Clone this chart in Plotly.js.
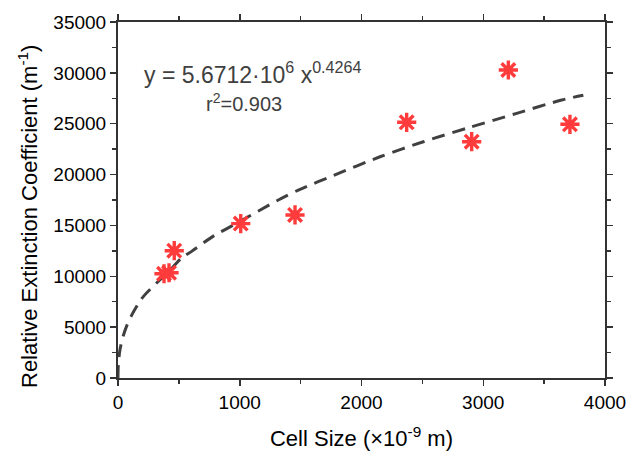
<!DOCTYPE html>
<html><head><meta charset="utf-8">
<script src="https://cdn.plot.ly/plotly-3.0.1.min.js"></script>
<style>body{margin:0;background:#fff}#c{width:629px;height:453px}</style>
</head><body><div id="c"></div>
<script>
// measured points (cell size in 1e-9 m, relative extinction coefficient in m^-1)
var cellSize = [378, 419, 462, 1008, 1454, 2371, 2905, 3206, 3712];
var extinction = [10250, 10350, 12516, 15180, 16030, 25140, 23234, 30282, 24943];
// dashed power-law fit curve
var fitX = [0, 2.5, 16.4, 43.5, 71.5, 112.5, 166.7, 207.8, 331, 400, 523, 605, 783, 988, 1317, 1495, 1768, 2152, 2508, 2891, 3275, 3644, 3822];
var fitY = [0, 1250, 2800, 4150, 5120, 6180, 7300, 8000, 9500, 10250, 11800, 12450, 13950, 15300, 17500, 18550, 19900, 21750, 23230, 24650, 26020, 27330, 27800];
var xTicks = [0, 1000, 2000, 3000, 4000];
var yTicks = [0, 5000, 10000, 15000, 20000, 25000, 30000, 35000];

var font = 'Arial, "Liberation Sans", sans-serif';
var traces = [
  {x: fitX, y: fitY, mode: 'lines', line: {color: '#404040', width: 3, dash: '13px,8px', shape: 'spline', smoothing: 0.8}, hoverinfo: 'skip'},
  {x: cellSize, y: extinction, mode: 'markers', marker: {symbol: 'asterisk-open', size: 16, color: '#ff3b3b', line: {color: '#ff3b3b', width: 3.4}}}
];
var axCommon = {showgrid: false, zeroline: false, showline: true, linecolor: '#333', linewidth: 2, mirror: 'ticks',
  ticks: 'outside', ticklen: 6, tickwidth: 1.5, tickcolor: '#333', tickfont: {family: font, size: 19, color: '#000'}};
var layout = {
  width: 629, height: 453, margin: {l: 118, r: 24, t: 22, b: 75},
  paper_bgcolor: '#fff', plot_bgcolor: '#fff', showlegend: false,
  xaxis: Object.assign({}, axCommon, {range: [0, 4000], tickvals: xTicks, ticktext: xTicks.map(String),
    minor: {dtick: 500, ticklen: 4, tickwidth: 1.5, tickcolor: '#333', ticks: 'outside'},
    title: {text: 'Cell Size (×10<sup>-9</sup> m)', font: {family: font, size: 22, color: '#000'}, standoff: 19}}),
  yaxis: Object.assign({}, axCommon, {range: [0, 35000], tickvals: yTicks, ticktext: yTicks.map(String),
    minor: {dtick: 2500, ticklen: 4, tickwidth: 1.5, tickcolor: '#333', ticks: 'outside'}}),
  annotations: [
    {xref: 'paper', yref: 'paper', x: (28 - 118) / 487, y: (378 - 217) / 356, xanchor: 'center', yanchor: 'middle',
     text: 'Relative Extinction Coefficient (m<sup>-1</sup>)', textangle: -90, showarrow: false,
     font: {family: font, size: 22, color: '#000'}},
    {xref: 'paper', yref: 'paper', x: (142 - 118) / 487, y: (378 - 73) / 356, xanchor: 'left', yanchor: 'middle',
     text: 'y = 5.6712·10<sup>6</sup> x<sup>0.4264</sup>', showarrow: false,
     font: {family: font, size: 23, color: '#404040'}},
    {xref: 'paper', yref: 'paper', x: (204 - 118) / 487, y: (378 - 102) / 356, xanchor: 'left', yanchor: 'middle',
     text: 'r<sup>2</sup>=0.903', showarrow: false,
     font: {family: font, size: 20, color: '#404040'}}
  ]
};
Plotly.newPlot('c', traces, layout, {displayModeBar: false, staticPlot: true});
</script></body></html>
